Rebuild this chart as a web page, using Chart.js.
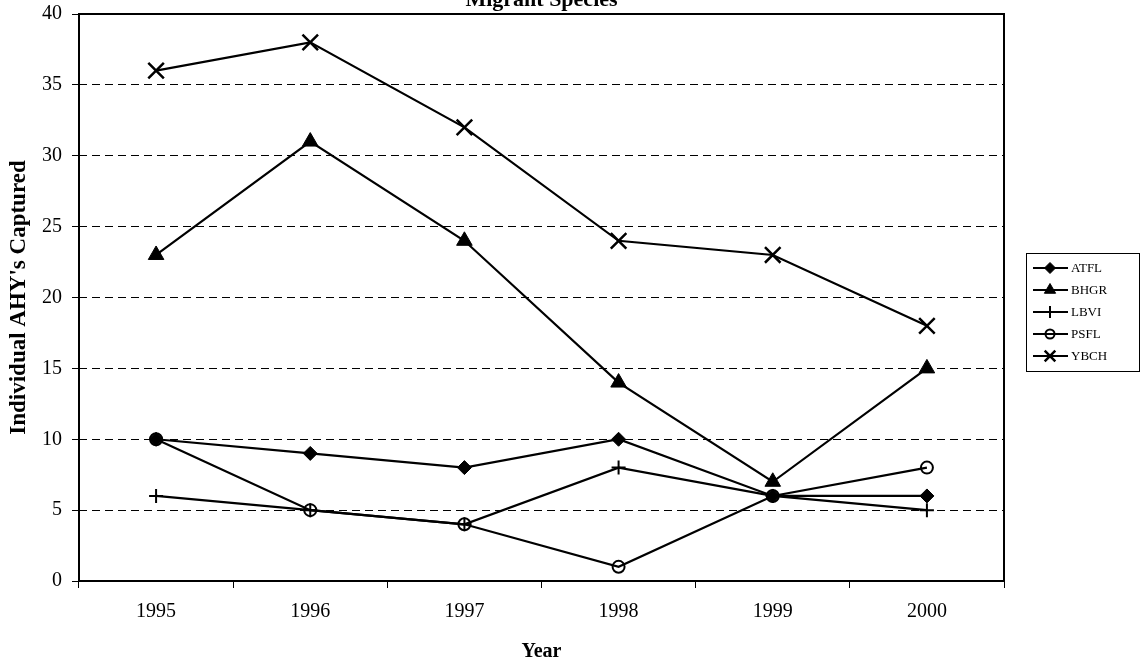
<!DOCTYPE html>
<html>
<head>
<meta charset="utf-8">
<script src="https://cdn.jsdelivr.net/npm/chart.js@4/dist/chart.umd.min.js"></script>
<style>
  html, body { margin: 0; padding: 0; background: #ffffff; }
  #wrap { width: 1142px; height: 665px; position: relative; }
</style>
</head>
<body>
<div id="wrap"><canvas id="c" width="1142" height="665"></canvas></div>
<script>
const years = ['1995', '1996', '1997', '1998', '1999', '2000'];
const ATFL = [10, 9, 8, 10, 6, 6];
const BHGR = [23, 31, 24, 14, 7, 15];
const LBVI = [6, 5, 4, 8, 6, 5];
const PSFL = [10, 5, 4, 1, 6, 8];
const YBCH = [36, 38, 32, 24, 23, 18];
const yTicks = [0, 5, 10, 15, 20, 25, 30, 35, 40];

const chartTitle = 'Migrant Species';
const xTitle = 'Year';
const yTitle = "Individual AHY's Captured";
const SERIF = "'Liberation Serif', 'Times New Roman', serif";

function ds(label, data, style, radius, bw, fill, legendRadius) {
  return {
    label, data,
    borderColor: '#000', borderWidth: 2.2, tension: 0,
    pointStyle: style, pointRadius: radius, pointHoverRadius: radius,
    pointBorderColor: '#000', pointBorderWidth: bw,
    pointBackgroundColor: fill ? '#000' : 'rgba(0,0,0,0)',
    fill: false,
    legendRadius
  };
}

const datasets = [
  ds('ATFL', ATFL, 'rectRot', 7, 1, true, 5.5),
  ds('BHGR', BHGR, 'triangle', 9, 1, true, 6.5),
  ds('LBVI', LBVI, 'cross', 7, 2, false, 6),
  ds('PSFL', PSFL, 'circle', 6, 2, false, 4.5),
  ds('YBCH', YBCH, 'crossRot', 11, 2.5, false, 7.5)
];

const decor = {
  id: 'decor',
  afterDraw(chart) {
    const ctx = chart.ctx;
    const a = chart.chartArea;
    ctx.save();
    ctx.setLineDash([]);
    ctx.strokeStyle = '#000';
    ctx.lineWidth = 2;
    ctx.strokeRect(a.left, a.top, a.right - a.left, a.bottom - a.top);
    ctx.fillStyle = '#000';
    ctx.textAlign = 'center';
    ctx.textBaseline = 'alphabetic';
    ctx.font = "bold 22px " + SERIF;
    ctx.fillText(chartTitle, (a.left + a.right) / 2, 6);
    ctx.font = "bold 20px " + SERIF;
    ctx.textBaseline = 'middle';
    ctx.fillText(xTitle, (a.left + a.right) / 2, 652);
    ctx.save();
    ctx.translate(19, (a.top + a.bottom) / 2);
    ctx.rotate(-Math.PI / 2);
    ctx.font = "bold 23px " + SERIF;
    ctx.fillText(yTitle, 0, 0);
    ctx.restore();
    // legend
    const lx = 1026, ly = 253, lw = 113, lh = 118;
    ctx.fillStyle = '#fff';
    ctx.fillRect(lx, ly, lw, lh);
    ctx.lineWidth = 1;
    ctx.strokeStyle = '#000';
    ctx.strokeRect(lx + 0.5, ly + 0.5, lw, lh);
    chart.data.datasets.forEach((d, i) => {
      const y = ly + 15 + i * 22;
      ctx.beginPath();
      ctx.lineWidth = 2;
      ctx.moveTo(1033, y);
      ctx.lineTo(1068, y);
      ctx.stroke();
      ctx.fillStyle = d.pointBackgroundColor;
      ctx.strokeStyle = '#000';
      ctx.lineWidth = d.pointBorderWidth;
      Chart.helpers.drawPoint(ctx, {
        pointStyle: d.pointStyle,
        radius: d.legendRadius,
        rotation: 0,
        borderWidth: d.pointBorderWidth
      }, 1050, y);
      ctx.fillStyle = '#000';
      ctx.textAlign = 'left';
      ctx.textBaseline = 'middle';
      ctx.font = "13px " + SERIF;
      ctx.fillText(d.label, 1071, y + 1);
    });
    ctx.restore();
  }
};

new Chart(document.getElementById('c'), {
  type: 'line',
  data: { labels: years, datasets },
  options: {
    responsive: false,
    animation: false,
    devicePixelRatio: 1,
    layout: { padding: { top: 14, right: 138, bottom: 0, left: 0 } },
    plugins: {
      legend: { display: false },
      title: { display: false },
      tooltip: { enabled: false }
    },
    scales: {
      x: {
        type: 'category',
        offset: true,
        afterFit(s) { s.height = 84; s.paddingLeft = 0; s.paddingRight = 0; },
        grid: {
          offset: true,
          drawOnChartArea: false,
          drawTicks: true,
          tickLength: 7,
          tickColor: '#000',
          tickWidth: 1,
          color: '#000'
        },
        border: { display: false },
        ticks: {
          color: '#000',
          font: { family: SERIF, size: 20 },
          padding: 12,
          maxRotation: 0,
          autoSkip: false
        }
      },
      y: {
        min: 0, max: 40,
        afterFit(s) { s.width = 79; s.paddingTop = 0; s.paddingBottom = 0; },
        afterBuildTicks(s) { s.ticks = yTicks.map(v => ({ value: v })); },
        grid: {
          color: '#000',
          lineWidth: 1,
          drawTicks: true,
          tickLength: 7,
          tickColor: '#000',
          tickWidth: 1,
          tickBorderDash: [1, 0]
        },
        border: { display: false, dash: [8, 5] },
        ticks: {
          color: '#000',
          font: { family: SERIF, size: 20 },
          padding: 10
        }
      }
    }
  },
  plugins: [decor]
});
</script>
</body>
</html>
